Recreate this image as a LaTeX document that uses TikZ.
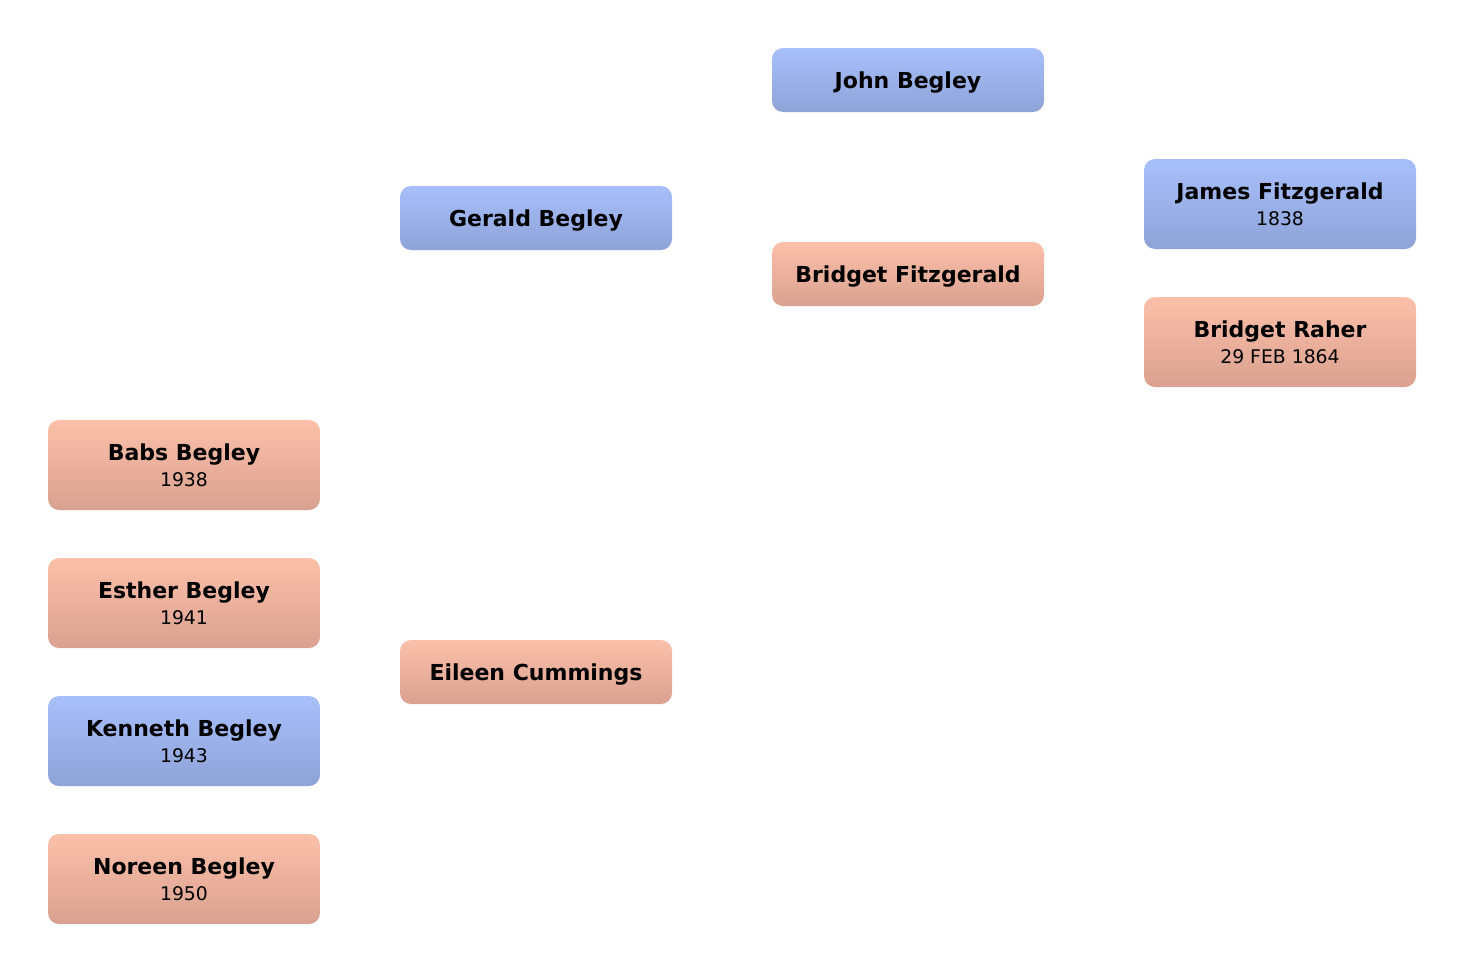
\documentclass[tikz,border=0pt]{standalone}
\usepackage{fontspec}
\setmainfont{DejaVu Sans}
\definecolor{mtop}{HTML}{A7BFFB}
\definecolor{mbot}{HTML}{8EA3D7}
\definecolor{ftop}{HTML}{FCC0A9}
\definecolor{fbot}{HTML}{D9A190}
\tikzset{
  person/.style={rectangle, rounded corners=11pt, minimum width=272pt, inner sep=0pt, align=center, text=black, font=\fontsize{22}{27}\selectfont},
  male/.style={person, top color=mtop, bottom color=mbot},
  female/.style={person, top color=ftop, bottom color=fbot},
  onel/.style={minimum height=64pt},
  twol/.style={minimum height=90pt},
}
\newcommand{\pname}[1]{{\fontsize{22}{27}\selectfont\bfseries #1}}
\newcommand{\pone}[1]{\raisebox{-3pt}[\height][\depth]{\pname{#1}}}
\newcommand{\ptwo}[1]{\raisebox{-1pt}[\height][\depth]{\pname{#1}}}
\newcommand{\pyear}[1]{{\fontsize{18.8}{27}\selectfont #1}}
\begin{document}
\begin{tikzpicture}[x=1pt,y=-1pt]
\useasboundingbox (0,0) rectangle (1464,972);
\node[male,onel] (john) at (908,80) {\pone{John Begley}};
\node[male,onel] (gerald) at (536,218) {\pone{Gerald Begley}};
\node[female,onel] (bridgetf) at (908,274) {\pone{Bridget Fitzgerald}};
\node[male,twol] (james) at (1280,204) {\ptwo{James Fitzgerald}\\\pyear{1838}};
\node[female,twol] (bridgetr) at (1280,342) {\ptwo{Bridget Raher}\\\pyear{29 FEB 1864}};
\node[female,twol] (babs) at (184,465) {\ptwo{Babs Begley}\\\pyear{1938}};
\node[female,twol] (esther) at (184,603) {\ptwo{Esther Begley}\\\pyear{1941}};
\node[female,onel] (eileen) at (536,672) {\pone{Eileen Cummings}};
\node[male,twol] (kenneth) at (184,741) {\ptwo{Kenneth Begley}\\\pyear{1943}};
\node[female,twol] (noreen) at (184,879) {\ptwo{Noreen Begley}\\\pyear{1950}};
\end{tikzpicture}
\end{document}
